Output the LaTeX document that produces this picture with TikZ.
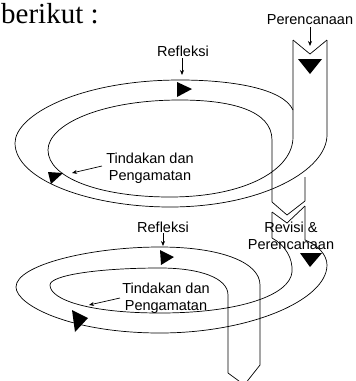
\documentclass[tikz,border=0pt]{standalone}
\usepackage{fontspec}
\setmainfont{Liberation Serif}
\newfontfamily\arialf{Liberation Sans}
\usetikzlibrary{arrows.meta}
\begin{document}
\begin{tikzpicture}[x=1pt,y=-1pt,
  edge/.style={line width=0.7pt, line join=round},
  lab/.style={font=\arialf\fontsize{14.5}{16.5}\selectfont, inner sep=0pt, align=center},
  labarrow/.style={line width=0.7pt, -{Stealth[length=5pt,width=4pt]}},
  tri/.style={fill=black}]
\useasboundingbox (0,0) rectangle (356,381);
\clip (0,0) rectangle (356,381);

\node[anchor=base west, font=\fontsize{29}{29}\selectfont, inner sep=0pt] (title) at (1,23) {berikut :};

% ---------- spiral 1 ----------
\draw[edge] (293,40) -- (310,54) -- (327,40);
% inner edge
\draw[edge] (272,202) -- (272,140) .. controls (272,110) and (230,100) .. (180,100)
  .. controls (100,100) and (48,125) .. (48,150)
  .. controls (48,178) and (100,197) .. (170,197)
  .. controls (245,197) and (293,170) .. (293,137) -- (293,40);
% outer edge
\draw[edge] (293,110) .. controls (283,88) and (230,80) .. (180,80)
  .. controls (80,80) and (15,115) .. (15,143)
  .. controls (15,180) and (90,207) .. (170,207)
  .. controls (262,207) and (327,170) .. (327,135) -- (327,40);
% band down
\draw[edge] (305,177) -- (305,201) -- (287,215) -- (272,202);
\draw[edge] (272,212) -- (287,223) -- (305,206);

\fill[tri] (298,59) -- (322,59) -- (310,74) -- cycle;
\fill[tri] (177,82) -- (192,89) -- (177,97) -- cycle;
\fill[tri] (48,172) -- (63,173) -- (51,184) -- cycle;

\node[lab] (perenc1) at (310,20) {Perencanaan};
\coordinate (p1tip) at (310,46);
\draw[labarrow] (perenc1.south) ++(0,2) -- (p1tip);
\node[lab] (refl1) at (183,51) {Refleksi};
\coordinate (r1tip) at (182,75);
\draw[labarrow] (182,58) -- (r1tip);
\node[lab] (tind1) at (150,168) {Tindakan dan\\Pengamatan};
\coordinate (t1tip) at (72,173);
\draw[labarrow] (102,166) -- (t1tip);

% ---------- spiral 2 ----------
\draw[edge] (272,212) -- (272,238) .. controls (285,245) and (293,258) .. (292,272)
  .. controls (290,295) and (240,313) .. (160,313)
  .. controls (90,313) and (50,300) .. (50,285)
  .. controls (50,275) and (100,268) .. (160,268)
  .. controls (200,268) and (228,278) .. (228,295) -- (228,373) -- (243,384);
\draw[edge] (305,206) -- (305,240) .. controls (318,245) and (327,255) .. (327,265)
  .. controls (327,300) and (250,333) .. (160,333)
  .. controls (70,333) and (16,305) .. (16,287)
  .. controls (16,265) and (90,247) .. (160,247)
  .. controls (220,247) and (260,262) .. (260,285) -- (260,365) -- (245,384);

\fill[tri] (300,253) -- (322,253) -- (310,267) -- cycle;
\fill[tri] (160,250) -- (174,257) -- (161,265) -- cycle;
\fill[tri] (72,310) -- (88,318) -- (75,332) -- cycle;

\node[lab] (refl2) at (163,227) {Refleksi};
\coordinate (r2tip) at (163,246);
\draw[labarrow] (163,233) -- (r2tip);
\node[lab] (tind2) at (166,298) {Tindakan dan\\Pengamatan};
\coordinate (t2tip) at (89,305);
\draw[labarrow] (120,298) -- (t2tip);
\node[lab] (rev2) at (291,236) {Revisi \&\\Perencanaan};
\end{tikzpicture}
\end{document}
